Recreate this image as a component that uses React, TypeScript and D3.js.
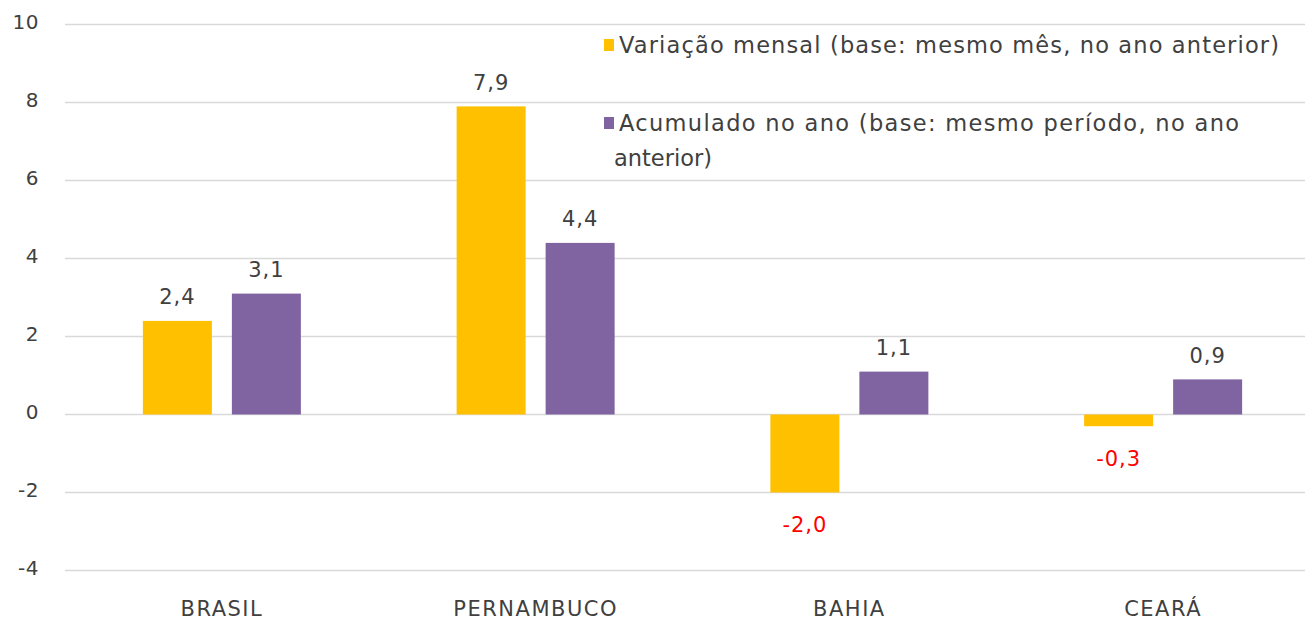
import React from 'react';
import * as d3 from 'd3';

const categories = ['BRASIL', 'PERNAMBUCO', 'BAHIA', 'CEARÁ'];
const series = ['mensal', 'acumulado'];
const mensal = [2.4, 7.9, -2.0, -0.3];
const acumulado = [3.1, 4.4, 1.1, 0.9];
const yTicks = [-4, -2, 0, 2, 4, 6, 8, 10];
const legendLines = [
  ['Variação mensal (base: mesmo mês, no ano anterior)'],
  ['Acumulado no ano (base: mesmo período, no ano', 'anterior)'],
];
// measured widths of the long legend lines in the reference (0 = natural)
const legendWidths = [
  [660],
  [620, 0],
];

const W = 1305;
const H = 620;
const colors = ['#FFC000', '#8064A2'];
const font = '"DejaVu Sans", Verdana, sans-serif';
const textColor = '#404040';

const App = () => {
  // scales
  const y = d3.scaleLinear().domain([-4, 10]).range([570.5, 24.5]);
  const x0 = d3.scaleBand().domain(categories).range([65, 1320]).padding(0);
  const x1 = d3
    .scaleBand()
    .domain(series)
    .range([0, x0.bandwidth()])
    .paddingInner(0.2247)
    .paddingOuter(0.875);

  const values = [mensal, acumulado];
  const fmt = (v: number) => v.toFixed(1).replace('.', ',');

  return (
    <svg width={W} height={H} style={{ position: 'absolute', left: 0, top: 0 }}>
      <rect width={W} height={H} fill="#fff" />
      {/* gridlines and y labels */}
      {yTicks.map((t) => (
        <g key={t}>
          <line x1={65} x2={W} y1={y(t)} y2={y(t)} stroke="#D9D9D9" strokeWidth={1.3} />
          <text
            x={39}
            y={y(t) - 3}
            dy="0.35em"
            textAnchor="end"
            fontFamily={font}
            fontSize={20}
            letterSpacing={0.5}
            fill={textColor}
          >
            {t}
          </text>
        </g>
      ))}
      {/* bars */}
      {categories.map((c, i) => (
        <g key={c} transform={`translate(${x0(c)},0)`}>
          {series.map((s, j) => {
            const v = values[j][i];
            const top = y(Math.max(0, v));
            const h = Math.abs(y(v) - y(0));
            return (
              <g key={s}>
                <rect x={x1(s)} y={top} width={x1.bandwidth()} height={h} fill={colors[j]} />
                <text
                  x={(x1(s) as number) + x1.bandwidth() / 2}
                  y={v >= 0 ? y(v) - 24 : y(v) + 32}
                  dy="0.35em"
                  textAnchor="middle"
                  fontFamily={font}
                  fontSize={21}
                  letterSpacing={1}
                  fill={v < 0 ? '#FF0000' : textColor}
                >
                  {fmt(v)}
                </text>
              </g>
            );
          })}
          <text
            x={x0.bandwidth() / 2}
            y={609}
            dy="0.35em"
            textAnchor="middle"
            fontFamily={font}
            fontSize={21}
            letterSpacing={1.5}
            fill={textColor}
          >
            {c}
          </text>
        </g>
      ))}
      {/* legend */}
      {legendLines.map((lines, j) => (
        <g key={j} transform={`translate(604,${j === 0 ? 45 : 123})`}>
          <rect x={0} y={-6} width={10} height={12} fill={colors[j]} />
          {lines.map((l, k) => (
            <text
              key={k}
              x={k === 0 ? 15 : 10}
              y={k * 35}
              dy="0.35em"
              fontFamily={font}
              fontSize={22.5}
              textLength={legendWidths[j][k] || undefined}
              lengthAdjust={legendWidths[j][k] ? 'spacing' : undefined}
              fill={textColor}
            >
              {l}
            </text>
          ))}
        </g>
      ))}
    </svg>
  );
};

export default App;
